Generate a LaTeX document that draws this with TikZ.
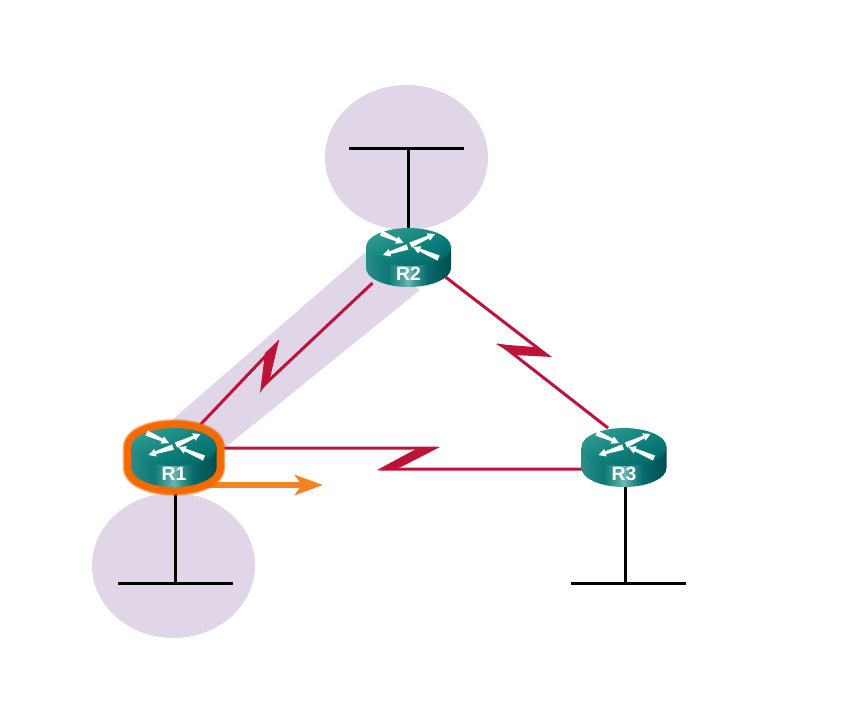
\documentclass[tikz,border=0pt]{standalone}
\usepackage{fontspec}
\setmainfont{Liberation Sans}
\usetikzlibrary{arrows.meta,shapes.geometric,calc}
\definecolor{lav}{HTML}{E0D6E8}
\definecolor{wan}{HTML}{BE1238}
\definecolor{halo}{HTML}{F26A00}
\definecolor{sig}{HTML}{F58220}
\definecolor{bodyA}{HTML}{2A8C87}
\definecolor{bodyB}{HTML}{0F7875}
\definecolor{bodyC}{HTML}{4A9F9B}
\definecolor{bodyD}{HTML}{6FB8B0}
\definecolor{bodyE}{HTML}{3A9490}
\definecolor{bodyF}{HTML}{086B6B}
\definecolor{bodyG}{HTML}{004D52}
\definecolor{topA}{HTML}{2F9A8F}
\definecolor{topB}{HTML}{11827C}
\definecolor{topC}{HTML}{006A6B}
\pgfdeclarehorizontalshading{routerbody}{100bp}{
  color(0bp)=(bodyA);
  color(25bp)=(bodyA);
  color(38bp)=(bodyB);
  color(46bp)=(bodyC);
  color(50bp)=(bodyD);
  color(54bp)=(bodyE);
  color(61bp)=(bodyF);
  color(75bp)=(bodyG);
  color(100bp)=(bodyG)}
\pgfdeclareverticalshading{routertop}{100bp}{
  color(0bp)=(topA);
  color(25bp)=(topA);
  color(50bp)=(topB);
  color(75bp)=(topC);
  color(100bp)=(topC)}
\tikzset{
  routerbox/.style={rectangle,inner sep=0pt,minimum width=63.75pt,minimum height=45pt},
  routerlabel/.style={text=white,font=\bfseries\fontsize{14.5}{16}\selectfont,inner sep=0pt},
  wanline/.style={draw=wan,line width=2.25pt,line join=miter,miter limit=12},
  wanbolt/.style={fill=wan},
  lanline/.style={draw=black,line width=2.25pt},
  zone/.style={fill=lav},
  zonenode/.style={zone,ellipse,inner sep=0pt,minimum width=122.25pt,minimum height=108.75pt},
  flowline/.style={draw=sig,line width=3.8pt,-{Stealth[length=21pt,width=15pt,inset=5pt]}},
  haloring/.style={draw=halo,line join=round},
}
\newcommand{\outlinepath}{(-42.5,-11) -- (-42.5,10) arc[start angle=180,end angle=0,x radius=42.5,y radius=19] -- (42.5,-11) arc[start angle=0,end angle=-180,x radius=42.5,y radius=19] -- cycle}
% tapered white arrow from #1 (wide tail) to #2 (tip)
\newcommand{\dirarrow}[2]{%
  \fill[white] ($(#1)!2.1pt!90:(#2)$) --
    ($($(#2)!5.5pt!(#1)$)!1.1pt!90:(#2)$) --
    ($($(#2)!5.5pt!(#1)$)!3pt!90:(#2)$) --
    (#2) --
    ($($(#2)!5.5pt!(#1)$)!3pt!-90:(#2)$) --
    ($($(#2)!5.5pt!(#1)$)!1.1pt!-90:(#2)$) --
    ($(#1)!2.1pt!-90:(#2)$) -- cycle;}
\newcommand{\routerart}[2]{%
  \begin{scope}[shift={(#1.center)}]
    \shade[shading=routerbody] (-42.5,-11) -- (-42.5,10) arc[start angle=180,end angle=0,x radius=42.5,y radius=19] -- (42.5,-11) -- cycle;
    \shade[shading=routertop,shading angle=205] (0,-11) ellipse[x radius=42.5,y radius=19];
    \dirarrow{-27.5,-25}{-5,-15}
    \dirarrow{30,0}{4.5,-11}
    \dirarrow{2,-13}{26.5,-24}
    \dirarrow{-1,-11}{-25.5,-3}
    \node[routerlabel] (#1label) at (0,15.5) {#2};
  \end{scope}}
\begin{document}
\begin{tikzpicture}[x=0.75pt,y=-0.75pt]
\useasboundingbox (0,0) rectangle (849,722);
% invisible router boxes (named anchors for the connectors)
\node[routerbox] (r1) at (174,458) {};
\node[routerbox] (r2) at (408.5,258) {};
\node[routerbox] (r3) at (624,458) {};
% shaded areas
\node[zonenode] (zoneb) at (406.5,157.5) {};
\node[zonenode] (zonea) at (173.5,565.5) {};
\fill[zone] (172,420) -- (368,250) -- (420,290) -- (222,450) -- cycle;
% LAN segments
\coordinate (lanb) at (408.5,148);
\coordinate (lana) at (175,583);
\coordinate (lanc) at (625,583);
\draw[lanline] (r2.center) -- (lanb);
\draw[lanline] ([shift={(-59.5,0)}]lanb) -- ([shift={(55.5,0)}]lanb);
\draw[lanline] ([shift={(1,12)}]r1.center) -- (lana);
\draw[lanline] ([shift={(-57,0)}]lana) -- ([shift={(58,0)}]lana);
\draw[lanline] ([shift={(1,12)}]r3.center) -- (lanc);
\draw[lanline] ([shift={(-54,0)}]lanc) -- ([shift={(61,0)}]lanc);
% serial link R1--R2
\coordinate (b1a) at (276,345);
\coordinate (b1b) at (264,385);
\draw[wanline] ([shift={(26,-33)}]r1.center) -- (b1a) -- (b1b) -- ([shift={(-36,25)}]r2.center);
\fill[wanbolt] (279,340) -- (270,378) -- (260,393) -- (265,353) -- cycle;
% serial link R2--R3
\coordinate (b2a) at (545.5,354);
\coordinate (b2b) at (503,346);
\draw[wanline] ([shift={(37,19)}]r2.center) -- (b2a) -- (b2b) -- ([shift={(-16,-30)}]r3.center);
\fill[wanbolt] (552,357) -- (534,347) -- (496,344) -- (515,355) -- cycle;
% serial link R1--R3
\coordinate (b3a) at (431.5,448);
\coordinate (b3b) at (385.5,469);
\draw[wanline] ([shift={(40,-10)}]r1.center) -- (b3a) -- (b3b) -- ([shift={(-40,11)}]r3.center);
\fill[wanbolt] (440,447) -- (417,448.5) -- (377,470) -- (400,467.5) -- cycle;
% flow arrow
\coordinate (flowend) at (323,485);
\draw[flowline] (r1.center |- flowend) -- (flowend);
% halo round R1
\begin{scope}[shift={(r1.center)}]
  \draw[haloring,opacity=.15,line width=14pt] \outlinepath;
  \draw[haloring,opacity=.3,line width=13pt] \outlinepath;
  \draw[haloring,opacity=.5,line width=12pt] \outlinepath;
  \draw[haloring,opacity=.8,line width=11pt] \outlinepath;
  \draw[haloring,line width=9.5pt] \outlinepath;
\end{scope}
% routers
\routerart{r1}{R1}
\routerart{r2}{R2}
\routerart{r3}{R3}
\end{tikzpicture}
\end{document}
